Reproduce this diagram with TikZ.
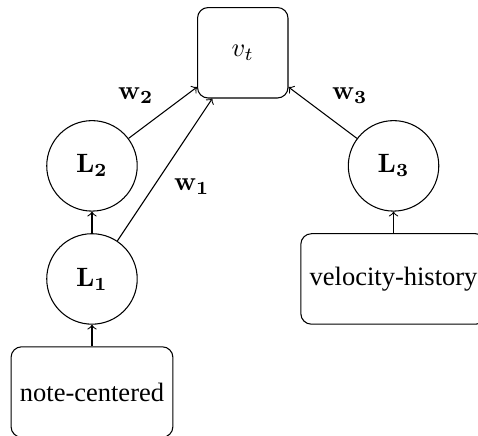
\documentclass[tikz,border=0pt]{standalone}
\usepackage[no-math]{fontspec}
\setmainfont{Liberation Serif}
\usetikzlibrary{shapes}

\begin{document}
\begin{tikzpicture}[layer/.style={circle,draw,minimum size=1.2cm},
  feature/.style={rectangle,draw,rounded corners,minimum height=1.2cm}]
\useasboundingbox (-3.22,-5.08) rectangle (3.12,0.70);

\node[rectangle,draw,rounded corners,minimum size=1.2cm] (vt) at (0,0) {$v_t$};

\node[layer] (L2) at (-2,-1.5) {$\mathbf{L_2}$};
\node[layer] (L1) at (-2,-3) {$\mathbf{L_1}$};
\node[layer] (L3) at (2,-1.5) {$\mathbf{L_3}$};

\node[feature] (note) at (-2,-4.5) {note-centered};
\node[feature] (velo) at (2,-3) {velocity-history};

\draw[->] (note) -- (L1);
\draw[->] (L1) -- (L2);
\draw[->] (velo) -- (L3);

\draw[->] (L2) -- node[above left] {$\mathbf{w_2}$} (vt);
\draw[->] (L1) -- node[below right] {$\mathbf{w_1}$} (vt);
\draw[->] (L3) -- node[above right] {$\mathbf{w_3}$} (vt);
\end{tikzpicture}
\end{document}
